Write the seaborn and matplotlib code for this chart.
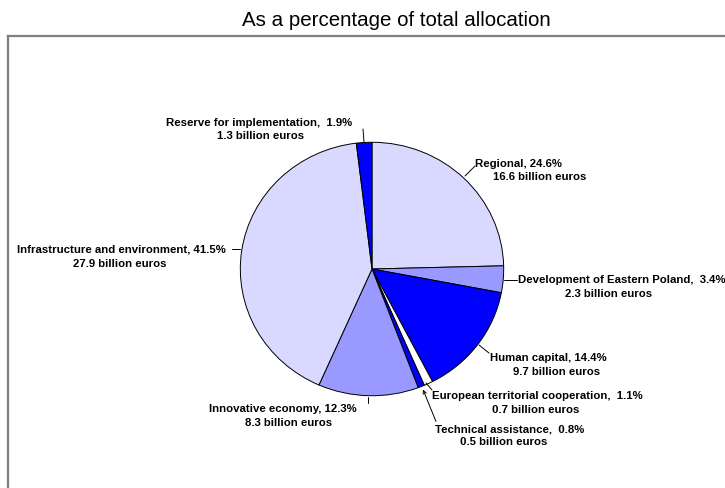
import matplotlib
matplotlib.use("Agg")
import matplotlib.pyplot as plt
import seaborn as sns

# Allocation shares, listed clockwise from twelve o'clock
categories = [
    "Regional",
    "Development of Eastern Poland",
    "Human capital",
    "European territorial cooperation",
    "Technical assistance",
    "Innovative economy",
    "Infrastructure and environment",
    "Reserve for implementation",
]
shares_pct = [24.6, 3.4, 14.4, 1.1, 0.8, 12.3, 41.5, 1.9]
billion_euros = [16.6, 2.3, 9.7, 0.7, 0.5, 8.3, 27.9, 1.3]
title_text = "As a percentage of total allocation"

LIGHT, MID, BLUE, WHITE = "#d9d9ff", "#9999ff", "#0000ff", "#ffffff"
slice_colors = [LIGHT, MID, BLUE, WHITE, BLUE, MID, LIGHT, BLUE]

sns.set_theme(style="white")
plt.rcParams["font.family"] = ["Liberation Sans", "DejaVu Sans"]

W, H = 725, 488
fig = plt.figure(figsize=(W / 100, H / 100), dpi=100)
fig.patch.set_facecolor("white")

# Pie axes placed in pixel terms (centre 372,269; radii 133 x 128)
cx, cy, rx, ry = 372, 269, 133, 128
pie_ax = fig.add_axes([(cx - rx) / W, 1 - (cy + ry) / H, 2 * rx / W, 2 * ry / H])
pie_ax.pie(
    shares_pct,
    colors=slice_colors,
    startangle=90,
    counterclock=False,
    radius=1.0,
    wedgeprops=dict(edgecolor="black", linewidth=0.7),
)
pie_ax.set_aspect("auto")
pie_ax.set_xlim(-1.01, 1.01)
pie_ax.set_ylim(-1.01, 1.01)
pie_ax.axis("off")

# Overlay axes in pixel coordinates for frame, labels and leader lines
ov = fig.add_axes([0, 0, 1, 1], zorder=3)
ov.set_xlim(0, W)
ov.set_ylim(H, 0)
ov.axis("off")
ov.patch.set_alpha(0)

frame_kw = dict(color="#7f7f7f", linewidth=1.6, solid_capstyle="projecting")
ov.plot([8.5, W + 5], [35.5, 35.5], **frame_kw)
ov.plot([8.5, 8.5], [35.5, H + 5], **frame_kw)

ov.text(396, 21, title_text, ha="center", va="center", fontsize=14.8, color="black")

# Label line anchors (left x, y line 1, left x, y line 2) and leader segments
layout = {
    "Regional": ((475, 164), (493, 177), [(465, 176), (475, 166)]),
    "Development of Eastern Poland": ((518, 280), (565, 294), [(504, 280), (517, 280)]),
    "Human capital": ((490, 358), (513, 372), [(479, 345), (489, 353)]),
    "European territorial cooperation": ((432, 396), (492, 410), [(426, 383), (432, 390)]),
    "Technical assistance": ((435, 429), (460, 442), None),
    "Innovative economy": ((209, 409), (245, 423), [(368, 397), (368, 403)]),
    "Infrastructure and environment": ((17, 249), (73, 264), [(232, 249), (240, 249)]),
    "Reserve for implementation": ((166, 123), (217, 136), [(363, 129), (364, 142)]),
}

txt_kw = dict(fontsize=8.2, fontweight="bold", color="black", va="center", ha="left")
for name, pct, amt in zip(categories, shares_pct, billion_euros):
    (x1, y1), (x2, y2), seg = layout[name]
    ov.text(x1, y1, f"{name}, {pct:4.1f}%", **txt_kw)
    ov.text(x2, y2, f"{amt:.1f} billion euros", **txt_kw)
    if seg is not None:
        (a, b), (c, d) = seg
        ov.plot([a, c], [b, d], color="black", linewidth=0.7)

# Technical assistance leader ends in a small arrow at the slice
ov.annotate(
    "",
    xy=(422, 387),
    xytext=(437, 424),
    arrowprops=dict(arrowstyle="->", color="black", linewidth=0.7, mutation_scale=6),
)

fig.savefig("out.png", dpi=100, facecolor="white")
